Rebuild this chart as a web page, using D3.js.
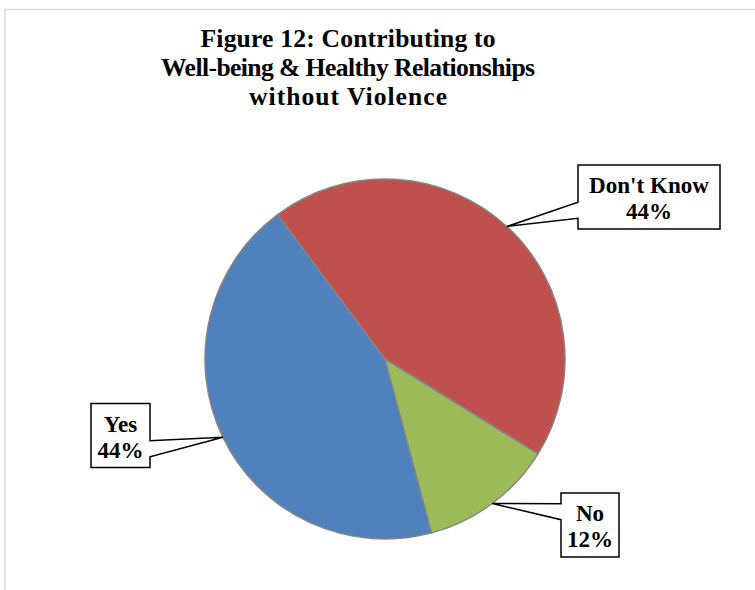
<!DOCTYPE html>
<html><head><meta charset="utf-8">
<script src="https://cdn.jsdelivr.net/npm/d3@7"></script>
<style>body{margin:0;background:#fff} svg{display:block}</style>
</head><body><svg id="c" width="755" height="590"></svg>
<script>
const categories = ["Yes", "Don't Know", "No"];
const values = [44, 44, 12];
const pctLabels = ["44%", "44%", "12%"];
const colors = ["#4F81BD", "#C0504D", "#9BBB59"];
const titleLines = ["Figure 12: Contributing to", "Well-being & Healthy Relationships", "without Violence"];

const W = 755, H = 590;
const svg = d3.select("#c");
svg.append("rect").attr("x", 5).attr("y", 9.5).attr("width", W + 20).attr("height", H + 20)
  .attr("fill", "#fff").attr("stroke", "#d9d9d9").attr("stroke-width", 1.5);

const font = "'Liberation Serif', 'Times New Roman', serif";

// Title
const titleWidths = [295, 374, 198];
const tl = svg.append("g").selectAll("text").data(titleLines).join("text")
  .attr("x", 348).attr("y", (d, i) => 47 + i * 29).attr("text-anchor", "middle")
  .attr("font-family", font).attr("font-weight", "bold").attr("font-size", 20)
  .attr("fill", "#000").text(d => d);
const wsum = d3.sum(tl.nodes(), n => n.getComputedTextLength());
tl.attr("font-size", 20 * d3.sum(titleWidths) / wsum)
  .attr("textLength", (d, i) => titleWidths[i]).attr("lengthAdjust", "spacing");

// Pie
const cx = 385, cy = 359, r = 180;
const deg = Math.PI / 180;
const pie = d3.pie().sort(null).value(d => d).startAngle(165 * deg).endAngle(525 * deg);
const arcs = pie(values);
const arc = d3.arc().innerRadius(0).outerRadius(r);
const g = svg.append("g").attr("transform", `translate(${cx},${cy})`);
g.selectAll("path").data(arcs).join("path")
  .attr("d", arc).attr("fill", (d, i) => colors[i])
  .attr("stroke", "#858585").attr("stroke-width", 1.5).attr("stroke-linejoin", "round");

// Callout labels
const boxCenters = [[120.5, 435.5], [649, 197], [590, 525]];
const boxW = [59, 142, 58];
const boxH = 64;
const lg = svg.append("g");
const probe = lg.append("text").attr("font-family", font).attr("font-weight", "bold")
  .attr("font-size", 20).text(categories[1]);
const lfs = 20 * 120 / probe.node().getComputedTextLength();
probe.remove();

arcs.forEach((a, i) => {
  const mid = (a.startAngle + a.endAngle) / 2;
  const tip = [cx + r * Math.sin(mid), cy - r * Math.cos(mid)];
  const grp = lg.append("g");
  const path = grp.append("path");
  grp.append("text").attr("x", boxCenters[i][0]).attr("y", boxCenters[i][1] - 4)
    .attr("text-anchor", "middle").attr("font-family", font).attr("font-weight", "bold")
    .attr("font-size", lfs).text(categories[i]);
  grp.append("text").attr("x", boxCenters[i][0]).attr("y", boxCenters[i][1] + 22)
    .attr("text-anchor", "middle").attr("font-family", font).attr("font-weight", "bold")
    .attr("font-size", lfs).text(pctLabels[i]);
  const bw = boxW[i];
  const x0 = boxCenters[i][0] - bw / 2, x1 = x0 + bw;
  const y0 = boxCenters[i][1] - boxH / 2, y1 = y0 + boxH;
  const below = tip[1] > boxCenters[i][1];
  const b1 = y0 + boxH * (below ? 7 : 2) / 12, b2 = y0 + boxH * (below ? 10 : 5) / 12;
  let pts;
  if (tip[0] < x0) {
    pts = [[x0, y0], [x1, y0], [x1, y1], [x0, y1], [x0, b2], tip, [x0, b1]];
  } else {
    pts = [[x0, y0], [x1, y0], [x1, b1], tip, [x1, b2], [x1, y1], [x0, y1]];
  }
  path.attr("d", d3.line()(pts) + "Z").attr("fill", "#fff").attr("stroke", "#000")
    .attr("stroke-width", 1.5).attr("stroke-linejoin", "miter");
});
</script></body></html>
